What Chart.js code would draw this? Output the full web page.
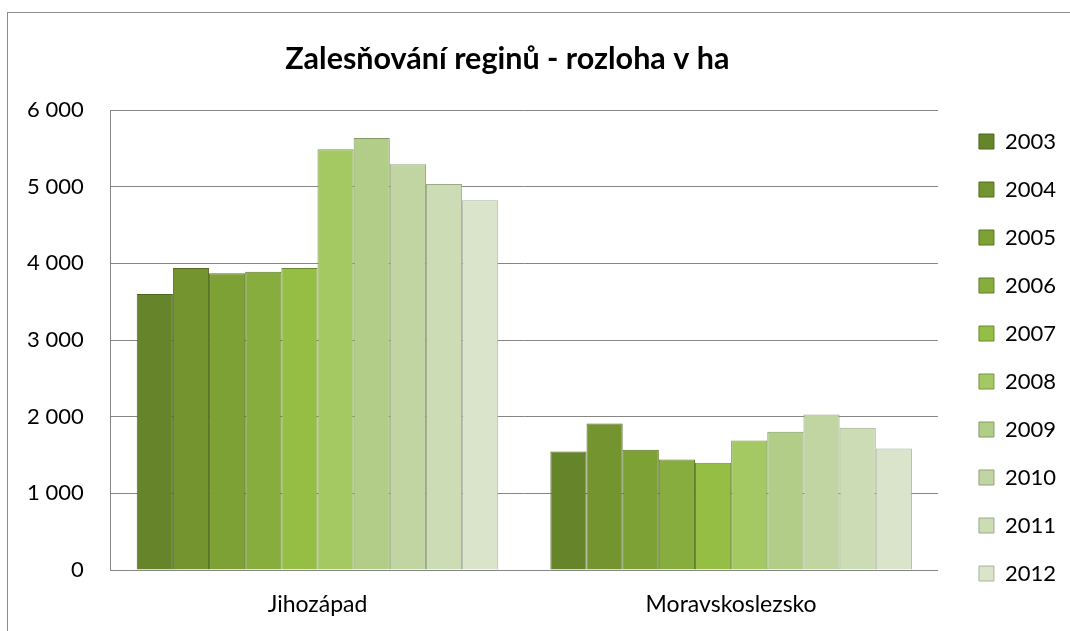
<!DOCTYPE html>
<html>
<head>
<meta charset="utf-8">
<script src="https://cdn.jsdelivr.net/npm/chart.js@4.4.1/dist/chart.umd.min.js"></script>
<style>
  html, body { margin: 0; padding: 0; background: #fff; }
  #wrap { position: relative; width: 1070px; height: 631px; overflow: hidden; }
  #frame { position: absolute; left: 7px; top: 12px; width: 1200px; height: 800px;
           border-top: 1px solid #8c8c8c; border-left: 1px solid #8c8c8c; }
  canvas { position: absolute; left: 0; top: 0; }
</style>
</head>
<body>
<div id="wrap">
  <div id="frame"></div>
  <canvas id="c" width="1070" height="631"></canvas>
</div>
<script>
// ---- data ----
const titleText = 'Zalesňování reginů - rozloha v ha';
const categories = ['Jihozápad', 'Moravskoslezsko'];
const years = ['2003', '2004', '2005', '2006', '2007', '2008', '2009', '2010', '2011', '2012'];
const jihozapad = [3600, 3940, 3870, 3890, 3940, 5490, 5635, 5295, 5035, 4825];
const moravskoslezsko = [1545, 1910, 1570, 1440, 1400, 1690, 1805, 2030, 1855, 1585];
const yTicks = [0, 1000, 2000, 3000, 4000, 5000, 6000];

// ---- styles ----
const fills = ['#66852b', '#73942f', '#7ea135', '#88ad3f', '#95bf44', '#a4c862', '#b2cd88', '#c0d5a1', '#ccdcb5', '#dae4cb'];
const borders = ['#4a661d', '#546d21', '#5c7425', '#637d2b', '#6d8930', '#799446', '#859a65', '#92a17b', '#9da98b', '#a9b29c'];

const datasets = years.map((y, i) => ({
  label: y,
  data: [jihozapad[i], moravskoslezsko[i]],
  backgroundColor: fills[i],
  borderColor: borders[i],
  borderWidth: 1,
  categoryPercentage: 0.874,
  barPercentage: 1.0
}));

const fmt = v => String(v).replace(/\B(?=(\d{3})+(?!\d))/g, ' ');

const boxShift = {
  id: 'boxShift',
  afterLayout(chart) {
    const L = chart.legend;
    const dx = 15, dy = 36;
    L.left += dx; L.right += dx; L.top += dy; L.bottom += dy;
    const T = chart.titleBlock;
    if (T) { T.left -= 17; T.right -= 17; }
  }
};

Chart.defaults.font.family = 'Lato, "Open Sans", sans-serif';
Chart.defaults.color = '#000';

new Chart(document.getElementById('c'), {
  type: 'bar',
  data: { labels: categories, datasets },
  options: {
    responsive: false,
    animation: false,
    layout: { padding: { left: 0, right: 19, top: 12, bottom: 0 } },
    scales: {
      x: {
        grid: { display: false, drawTicks: false },
        border: { display: true, color: '#868686', width: 1 },
        ticks: { font: { size: 23 }, padding: 21, color: '#000' },
        afterFit(axis) { axis.height = 61; }
      },
      y: {
        min: 0, max: 6000,
        afterBuildTicks(axis) { axis.ticks = yTicks.map(v => ({ value: v })); },
        grid: { color: '#868686', lineWidth: 1, drawTicks: false },
        border: { display: true, color: '#868686', width: 1 },
        ticks: { font: { size: 22 }, padding: 27, color: '#000', callback: v => fmt(v) }
      }
    },
    plugins: {
      title: {
        display: true,
        text: titleText,
        fullSize: false,
        color: '#000',
        font: { size: 30.5, weight: 'bold' },
        padding: { top: 29, bottom: 32.5 }
      },
      tooltip: { enabled: false },
      legend: {
        position: 'right',
        labels: { boxWidth: 15, boxHeight: 15, padding: 26, font: { size: 22 }, color: '#000' }
      }
    }
  },
  plugins: [boxShift]
});
</script>
</body>
</html>
